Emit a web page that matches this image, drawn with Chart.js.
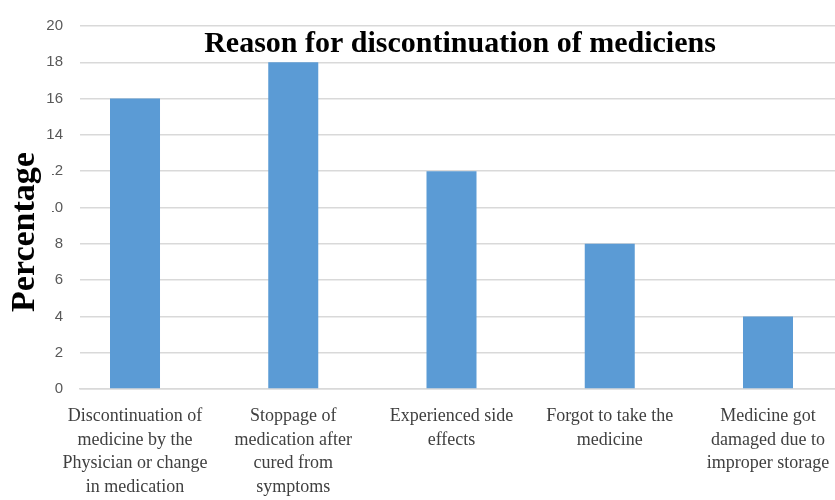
<!DOCTYPE html>
<html>
<head>
<meta charset="utf-8">
<script src="https://cdn.jsdelivr.net/npm/chart.js@4/dist/chart.umd.min.js"></script>
<style>
  html, body { margin: 0; padding: 0; background: #fff; }
  #wrap { width: 835px; height: 500px; position: relative; }
</style>
</head>
<body>
<div id="wrap"><canvas id="chartMotivos"></canvas></div>
<script>
// Datos del grafico
const categorias = [
    ['Discontinuation of', 'medicine by the', 'Physician or change', 'in medication'],
    ['Stoppage of', 'medication after', 'cured from', 'symptoms'],
    ['Experienced side', 'effects'],
    ['Forgot to take the', 'medicine'],
    ['Medicine got', 'damaged due to', 'improper storage']
];
const porcentajes = [16, 18, 12, 8, 4];
const tituloGrafico = 'Reason for discontinuation of mediciens';
const tituloEjeY = 'Percentage';

// Titulos dibujados a mano (van dentro del area, como en el original)
const pluginTitulos = {
    id: 'titulos',
    afterDraw(chart) {
        const ctx = chart.ctx;
        ctx.save();
        ctx.fillStyle = '#000';
        ctx.font = 'bold 30px "Liberation Serif", serif';
        ctx.textAlign = 'center';
        ctx.textBaseline = 'alphabetic';
        ctx.fillText(tituloGrafico, 460, 52);

        // el titulo del eje tapa parte de las etiquetas
        ctx.fillStyle = '#fff';
        ctx.fillRect(6, 140, 46, 185);
        ctx.translate(34, 232);
        ctx.rotate(-Math.PI / 2);
        ctx.fillStyle = '#000';
        ctx.font = 'bold 34px "Liberation Serif", serif';
        ctx.fillText(tituloEjeY, 0, 0);
        ctx.restore();
    }
};

const ctx = document.getElementById('chartMotivos');
new Chart(ctx, {
    type: 'bar',
    data: {
        datasets: [{
            data: porcentajes.map((v, i) => ({ x: i, y: v })),
            backgroundColor: '#5B9BD5',
            borderWidth: 0,
            categoryPercentage: 1,
            barPercentage: 0.316
        }]
    },
    options: {
        responsive: true,
        maintainAspectRatio: false,
        animation: false,
        layout: { padding: 0 },
        plugins: {
            legend: { display: false },
            tooltip: { enabled: false }
        },
        scales: {
            x: {
                type: 'linear',
                offset: false,
                min: -0.3476,
                max: 4.4234,
                // una marca por categoria
                afterBuildTicks: axis => {
                    axis.ticks = categorias.map((c, i) => ({ value: i }));
                },
                afterFit: axis => {
                    axis.height = 111;
                    axis.paddingLeft = 0;
                    axis.paddingRight = 0;
                },
                grid: { display: false, drawTicks: false },
                border: { display: true, color: '#d9d9d9', width: 1.5 },
                ticks: {
                    autoSkip: false,
                    maxRotation: 0,
                    padding: 16,
                    color: '#404040',
                    font: { family: '"Liberation Serif", serif', size: 18, lineHeight: 1.3 },
                    callback: value => categorias[value] || ''
                }
            },
            y: {
                min: 0,
                max: 20,
                afterFit: axis => { axis.width = 80; },
                grid: { color: '#d9d9d9', lineWidth: 1.5, drawTicks: false },
                border: { display: false },
                ticks: {
                    stepSize: 2,
                    padding: 17,
                    color: '#595959',
                    font: { family: '"Liberation Sans", sans-serif', size: 15 }
                }
            }
        }
    },
    plugins: [pluginTitulos]
});
</script>
</body>
</html>
